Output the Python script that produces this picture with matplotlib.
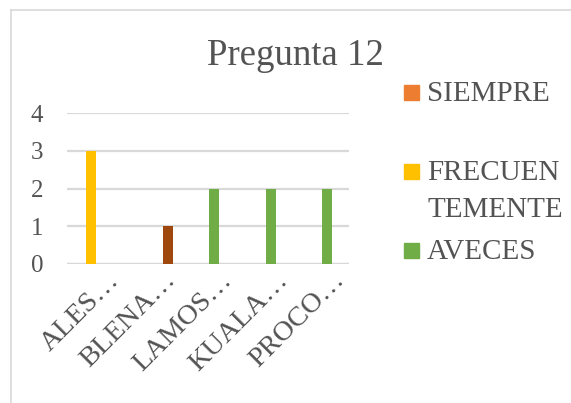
"""
plot.py
Clustered bar chart for survey question 12, one cluster per respondent.
Saves out.png.
"""

import matplotlib
matplotlib.use("Agg")
import matplotlib.pyplot as plt
import numpy as np
from matplotlib.patches import Rectangle
from matplotlib.lines import Line2D
from matplotlib.transforms import ScaledTranslation

# ── Data ─────────────────────────────────────────────────────────────────────
categories     = ["ALES…", "BLENA…", "LAMOS…", "KUALA…", "PROCO…"]
siempre        = [0, 0, 0, 0, 0]
frecuentemente = [3, 0, 0, 0, 0]
aveces         = [0, 0, 2, 2, 2]
otro           = [0, 1, 0, 0, 0]
yticks         = [0, 1, 2, 3, 4]

# ── Style ────────────────────────────────────────────────────────────────────
ORANGE = "#ED7D31"
YELLOW = "#FFC000"
GREEN  = "#70AD47"
BROWN  = "#9E480E"
TEXT   = "#535353"
GRID   = "#D9D9D9"

plt.rcParams["font.family"] = ["Liberation Serif", "DejaVu Serif"]

W, H, DPI = 571, 403, 100
fig = plt.figure(figsize=(W / DPI, H / DPI), dpi=DPI)

def px(x, y):
    """pixel position (top-left origin) -> figure fraction"""
    return x / W, 1 - y / H

# chart frame (top and left edges)
fig.add_artist(Line2D([11 / W, 1.0], [1 - 10 / H] * 2, color=GRID, lw=1.2))
fig.add_artist(Line2D([11 / W] * 2, [0.0, 1 - 10 / H], color=GRID, lw=1.2))

# ── Axes ─────────────────────────────────────────────────────────────────────
x0, x1, y0, y1 = 67, 349, 264, 113
ax = fig.add_axes([x0 / W, 1 - y0 / H, (x1 - x0) / W, (y0 - y1) / H])

x = np.arange(len(categories))
w = 0.18
series = [(siempre, ORANGE), (frecuentemente, YELLOW), (aveces, GREEN), (otro, BROWN)]
for i, (vals, col) in enumerate(series):
    ax.bar(x + (i - 1.5) * w + 0.02, vals, width=w, color=col, zorder=3)

ax.set_xlim(-0.5, len(categories) - 0.5)
ax.set_ylim(0, 4)
ax.set_yticks(yticks)
ax.yaxis.grid(True, color=GRID, lw=1.6, zorder=0)
for s in ax.spines.values():
    s.set_visible(False)
ax.axhline(0, color=GRID, lw=1.6, zorder=1)
ax.tick_params(axis="y", length=0, pad=17, labelsize=18, labelcolor=TEXT)
ax.tick_params(axis="x", length=0, pad=9, labelsize=20.5, labelcolor=TEXT)

ax.set_xticks(x)
ax.set_xticklabels(categories, rotation=45, ha="right", va="center",
                   rotation_mode="anchor")
shift = ScaledTranslation(20 / DPI, 0, fig.dpi_scale_trans)
for lab in ax.get_xticklabels():
    lab.set_transform(lab.get_transform() + shift)

# ── Title ────────────────────────────────────────────────────────────────────
fig.text(*px(295, 56), "Pregunta 12", ha="center", va="center",
         fontsize=26.5, color=TEXT)

# ── Legend ───────────────────────────────────────────────────────────────────
legend_items = [("SIEMPRE", ORANGE, 92), ("FRECUEN\nTEMENTE", YELLOW, 171),
                ("AVECES", GREEN, 250)]
for label, col, yc in legend_items:
    fx, fy = px(404, yc + 7.5)
    fig.add_artist(Rectangle((fx, fy), 15 / W, 15 / H, color=col,
                             transform=fig.transFigure))
    # multi-line labels hang from the first line, aligned with the swatch
    fig.text(*px(427, yc - 11), label, ha="left", va="top", fontsize=21,
             color=TEXT, linespacing=1.55)

fig.savefig("out.png", dpi=DPI)
